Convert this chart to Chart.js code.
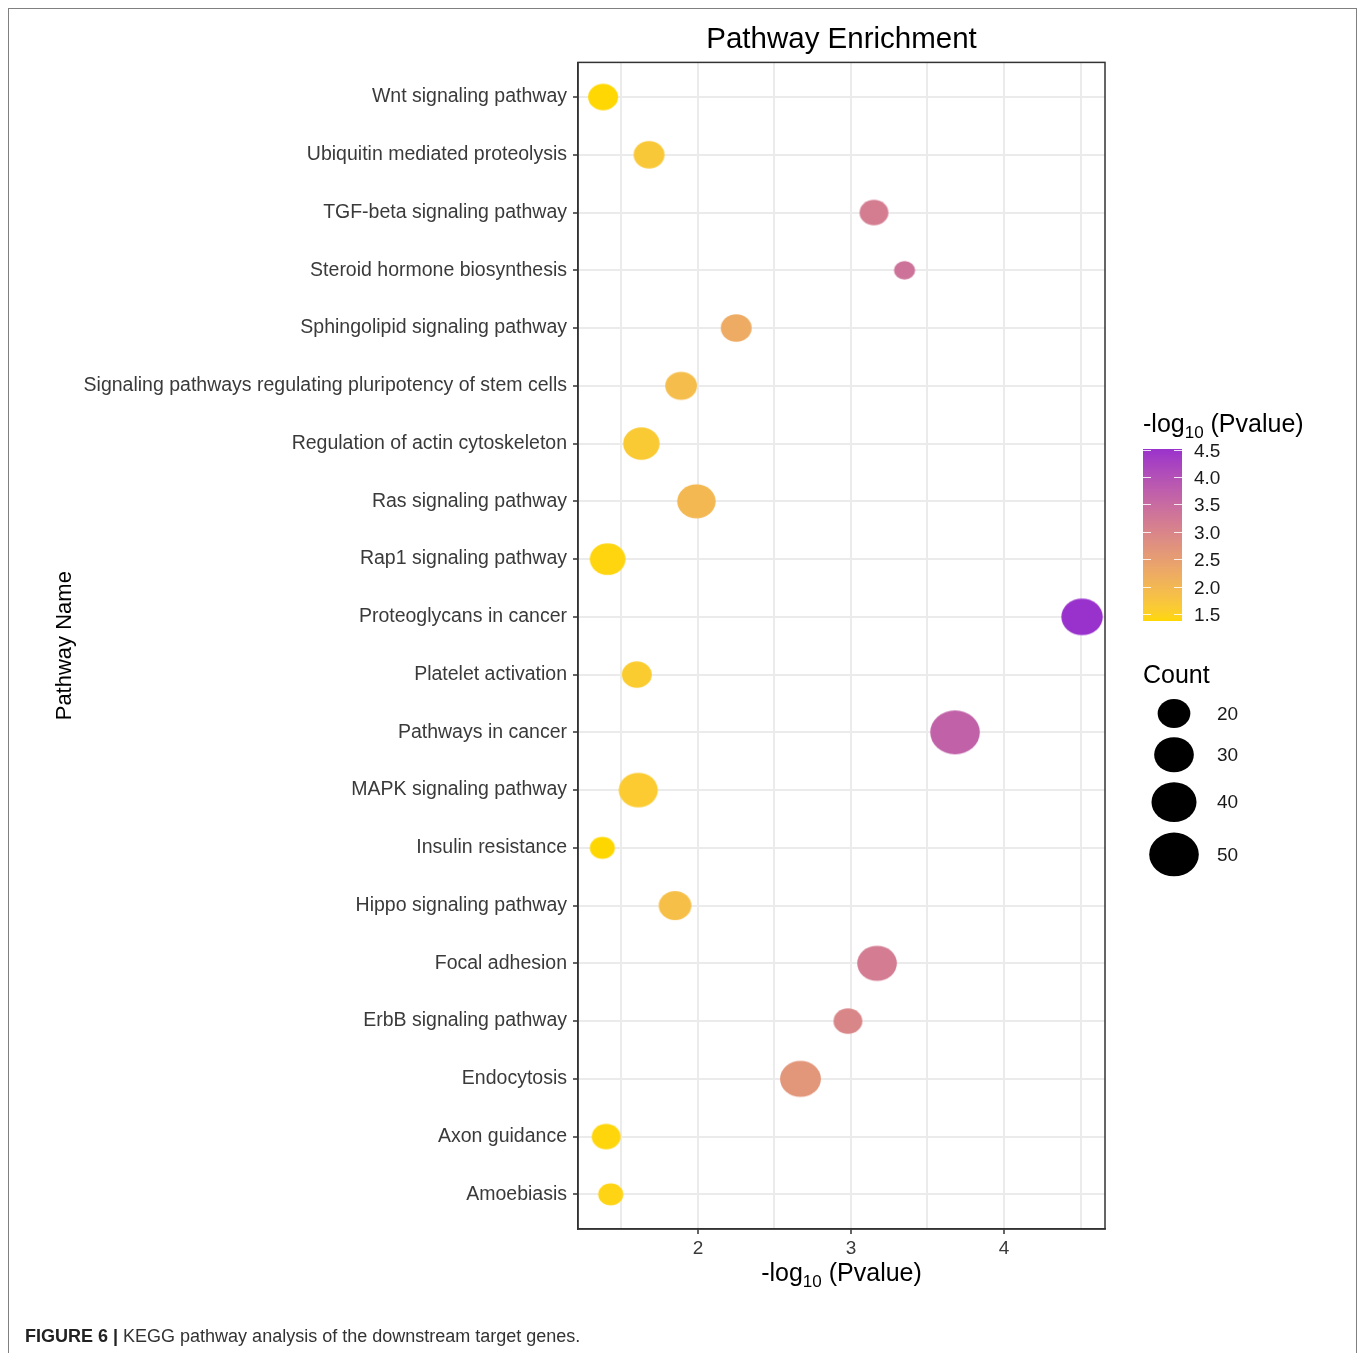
<!DOCTYPE html>
<html>
<head>
<meta charset="utf-8">
<script src="https://cdn.jsdelivr.net/npm/chart.js@4.4.1/dist/chart.umd.min.js"></script>
<style>
  html, body { margin: 0; padding: 0; background: #fff; }
  body { width: 1360px; height: 1353px; position: relative; overflow: hidden; }
  #frame { position: absolute; left: 8px; top: 8px; width: 1349px; height: 1400px;
           border: 1px solid #808080; box-sizing: border-box; }
  #wrap { position: absolute; left: 0; top: 0; width: 1360px; height: 1353px; }
  #caption { position: absolute; left: 25px; top: 1326px; font-size: 18px; color: #333;
             font-family: "Liberation Sans Narrow", "Liberation Sans", Arial, sans-serif; white-space: nowrap; }
  #caption b { color: #222; }
</style>
</head>
<body>
<div id="frame"></div>
<div id="wrap"><canvas id="kegg" width="1360" height="1353"></canvas></div>
<div id="caption"><b>FIGURE 6 |</b> KEGG pathway analysis of the downstream target genes.</div>
<script>
// KEGG pathways, listed top to bottom
const pathways = [
  "Wnt signaling pathway",
  "Ubiquitin mediated proteolysis",
  "TGF-beta signaling pathway",
  "Steroid hormone biosynthesis",
  "Sphingolipid signaling pathway",
  "Signaling pathways regulating pluripotency of stem cells",
  "Regulation of actin cytoskeleton",
  "Ras signaling pathway",
  "Rap1 signaling pathway",
  "Proteoglycans in cancer",
  "Platelet activation",
  "Pathways in cancer",
  "MAPK signaling pathway",
  "Insulin resistance",
  "Hippo signaling pathway",
  "Focal adhesion",
  "ErbB signaling pathway",
  "Endocytosis",
  "Axon guidance",
  "Amoebiasis"
];
// -log10(P value) of each pathway
const negLog10P = [1.38, 1.68, 3.15, 3.35, 2.25, 1.89, 1.63, 1.99, 1.41, 4.51,
                   1.60, 3.68, 1.61, 1.375, 1.85, 3.17, 2.98, 2.67, 1.40, 1.43];
// number of target genes in each pathway
const geneCounts = [17, 18, 16, 11, 18, 19, 25, 28, 24, 33,
                    17, 50, 29, 13, 20, 30, 16, 32, 16, 13];
const xTickLabels = [2, 3, 4];
const colorBreaks = [1.5, 2.0, 2.5, 3.0, 3.5, 4.0, 4.5];
const countBreaks = [20, 30, 40, 50];

const FONT = "'Liberation Sans', Arial, Helvetica, sans-serif";
const LOW_COLOR = [255, 215, 0];    // gold
const HIGH_COLOR = [153, 50, 204];  // darkorchid

// ---- colour scale: interpolation in CIELAB ----
function toLin(c) { c /= 255; return c <= 0.04045 ? c / 12.92 : Math.pow((c + 0.055) / 1.055, 2.4); }
function fromLin(c) {
  const v = c <= 0.0031308 ? 12.92 * c : 1.055 * Math.pow(c, 1 / 2.4) - 0.055;
  return Math.round(Math.min(1, Math.max(0, v)) * 255);
}
function rgbToLab(rgb) {
  const R = toLin(rgb[0]), G = toLin(rgb[1]), B = toLin(rgb[2]);
  const X = (0.4124 * R + 0.3576 * G + 0.1805 * B) / 0.95047;
  const Y = (0.2126 * R + 0.7152 * G + 0.0722 * B);
  const Z = (0.0193 * R + 0.1192 * G + 0.9505 * B) / 1.08883;
  const f = t => t > 0.008856 ? Math.cbrt(t) : 7.787 * t + 16 / 116;
  const fx = f(X), fy = f(Y), fz = f(Z);
  return [116 * fy - 16, 500 * (fx - fy), 200 * (fy - fz)];
}
function labToRgb(lab) {
  const fy = (lab[0] + 16) / 116, fx = fy + lab[1] / 500, fz = fy - lab[2] / 200;
  const inv = t => t * t * t > 0.008856 ? t * t * t : (t - 16 / 116) / 7.787;
  const X = inv(fx) * 0.95047, Y = inv(fy), Z = inv(fz) * 1.08883;
  const R = 3.2406 * X - 1.5372 * Y - 0.4986 * Z;
  const G = -0.9689 * X + 1.8758 * Y + 0.0415 * Z;
  const B = 0.0557 * X - 0.2040 * Y + 1.0570 * Z;
  return [fromLin(R), fromLin(G), fromLin(B)];
}
const LAB_LOW = rgbToLab(LOW_COLOR), LAB_HIGH = rgbToLab(HIGH_COLOR);
const vMin = Math.min(...negLog10P), vMax = Math.max(...negLog10P);
function colorFor(v) {
  const t = Math.min(1, Math.max(0, (v - vMin) / (vMax - vMin)));
  const lab = LAB_LOW.map((l, i) => l + (LAB_HIGH[i] - l) * t);
  const c = labToRgb(lab);
  return `rgb(${c[0]},${c[1]},${c[2]})`;
}

// ---- size scale: diameter grows with sqrt of count; keys are slightly oval ----
const ASPECT = 1.13;
function keyWidth(count) { return 15.8 + 5.34 * Math.sqrt(Math.max(count - 10, 0)); }
const ellipseCache = {};
function ellipseImage(count, color) {
  const key = count + '|' + color;
  if (ellipseCache[key]) return ellipseCache[key];
  const w = keyWidth(count), h = w / ASPECT;
  const cv = document.createElement('canvas');
  cv.width = Math.ceil(w) + 2; cv.height = Math.ceil(h) + 2;
  const g = cv.getContext('2d');
  g.fillStyle = color;
  g.beginPath();
  g.ellipse(cv.width / 2, cv.height / 2, w / 2, h / 2, 0, 0, Math.PI * 2);
  g.fill();
  ellipseCache[key] = cv;
  return cv;
}

// "-log10 (Pvalue)" with a subscript 10
function drawLogLabel(ctx, x, baseline, size, align) {
  const big = `${size}px ${FONT}`, small = `${Math.round(size * 0.68)}px ${FONT}`;
  ctx.font = big; const w1 = ctx.measureText('-log').width;
  ctx.font = small; const w2 = ctx.measureText('10').width;
  ctx.font = big; const w3 = ctx.measureText(' (Pvalue)').width;
  let sx = align === 'center' ? x - (w1 + w2 + w3) / 2 : x;
  ctx.textAlign = 'left'; ctx.textBaseline = 'alphabetic';
  ctx.font = big; ctx.fillText('-log', sx, baseline);
  ctx.font = small; ctx.fillText('10', sx + w1, baseline + size * 0.22);
  ctx.font = big; ctx.fillText(' (Pvalue)', sx + w1 + w2, baseline);
}

const decorPlugin = {
  id: 'decor',
  afterDraw(chart) {
    const ctx = chart.ctx, a = chart.chartArea;
    ctx.save();
    // panel border
    ctx.strokeStyle = '#333'; ctx.lineWidth = 1.5;
    ctx.strokeRect(a.left, a.top, a.right - a.left, a.bottom - a.top);

    // y axis title
    ctx.save();
    ctx.fillStyle = '#000'; ctx.font = `22px ${FONT}`;
    ctx.textAlign = 'center'; ctx.textBaseline = 'middle';
    ctx.translate(65, (a.top + a.bottom) / 2); ctx.rotate(-Math.PI / 2);
    ctx.fillText('Pathway Name', 0, 0);
    ctx.restore();

    // x axis title
    ctx.fillStyle = '#000';
    drawLogLabel(ctx, (a.left + a.right) / 2, 1281, 25, 'center');

    // colour bar legend
    drawLogLabel(ctx, 1143, 432, 25, 'left');
    const barL = 1143, barR = 1182, barT = 449, barB = 621;
    const ppu = (barB - barT) / (vMax - vMin);
    for (let y = barT; y < barB; y++) {
      ctx.fillStyle = colorFor(vMin + (barB - y - 0.5) / ppu);
      ctx.fillRect(barL, y, barR - barL, 1);
    }
    ctx.strokeStyle = 'rgba(255,255,255,0.85)'; ctx.lineWidth = 1;
    ctx.font = `19px ${FONT}`; ctx.textAlign = 'left'; ctx.textBaseline = 'middle';
    colorBreaks.forEach(v => {
      const y = Math.round(barB - (v - vMin) * ppu) + 0.5;
      ctx.beginPath();
      ctx.moveTo(barL, y); ctx.lineTo(barL + 8, y);
      ctx.moveTo(barR - 8, y); ctx.lineTo(barR, y);
      ctx.stroke();
      ctx.fillStyle = '#1a1a1a';
      ctx.fillText(v.toFixed(1), 1194, y + 1);
    });

    // size legend
    ctx.fillStyle = '#000'; ctx.font = `25px ${FONT}`;
    ctx.textBaseline = 'middle';
    ctx.fillText('Count', 1143, 676);
    let y = 694.7;
    countBreaks.forEach(c => {
      const w = keyWidth(c), h = w / ASPECT, slot = w + 5;
      const cy = y + slot / 2;
      ctx.fillStyle = '#000';
      ctx.beginPath(); ctx.ellipse(1174, cy, w / 2, h / 2, 0, 0, Math.PI * 2); ctx.fill();
      ctx.fillStyle = '#1a1a1a'; ctx.font = `19px ${FONT}`;
      ctx.fillText(String(c), 1217, cy + 1);
      y += slot;
    });
    ctx.restore();
  }
};

const points = pathways.map((name, i) => ({ x: negLog10P[i], y: i, count: geneCounts[i] }));

new Chart(document.getElementById('kegg'), {
  type: 'bubble',
  data: {
    datasets: [{
      data: points,
      pointStyle: c => ellipseImage(c.raw.count, colorFor(c.raw.x)),
      radius: c => keyWidth(c.raw.count) / 2,
      backgroundColor: c => colorFor(c.raw.x),
      borderWidth: 0
    }]
  },
  options: {
    responsive: false,
    animation: false,
    events: [],
    layout: { padding: { left: 0, top: 0, right: 255, bottom: 0 } },
    plugins: {
      legend: { display: false },
      tooltip: { enabled: false },
      title: {
        display: true, text: 'Pathway Enrichment', fullSize: false,
        color: '#000', font: { size: 29.5, family: FONT, weight: 'normal' },
        padding: { top: 22, bottom: 5 }
      }
    },
    scales: {
      x: {
        type: 'linear', position: 'bottom', min: 1.216, max: 4.66,
        afterFit: s => { s.height = 124; },
        border: { display: true, color: '#333', width: 1.5 },
        grid: {
          color: '#ebebeb', lineWidth: 2, tickLength: 5, tickWidth: 1.5,
          tickColor: c => xTickLabels.includes(c.tick && c.tick.value) ? '#333' : 'rgba(0,0,0,0)'
        },
        ticks: {
          stepSize: 0.5, includeBounds: false, autoSkip: false, maxRotation: 0,
          padding: 3, color: '#3a3a3a', font: { size: 19, family: FONT },
          callback: v => xTickLabels.includes(v) ? String(v) : ''
        }
      },
      y: {
        type: 'linear', position: 'left', reverse: true, min: -0.6, max: pathways.length - 0.4,
        afterFit: s => { s.width = 578; },
        border: { display: true, color: '#333', width: 1.5 },
        grid: { color: '#ebebeb', lineWidth: 2, tickLength: 5, tickWidth: 1.5, tickColor: '#333' },
        ticks: {
          stepSize: 1, includeBounds: false, autoSkip: false,
          padding: 6, color: '#3a3a3a', font: { size: 19.5, family: FONT },
          callback: v => pathways[v] !== undefined ? pathways[v] : ''
        }
      }
    }
  },
  plugins: [decorPlugin]
});
</script>
</body>
</html>
